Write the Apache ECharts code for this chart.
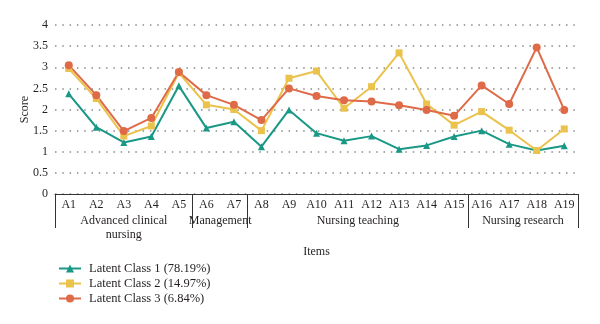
<!DOCTYPE html>
<html>
<head>
<meta charset="utf-8">
<script src="https://cdn.jsdelivr.net/npm/echarts@6/dist/echarts.min.js"></script>
<style>
	html, body { margin: 0; padding: 0; background: #fff; }
	#chart { width: 600px; height: 324px; }
</style>
</head>
<body>
<div id="chart"></div>
<script>
// 항목
var items = ['A1', 'A2', 'A3', 'A4', 'A5', 'A6', 'A7', 'A8', 'A9', 'A10',
	'A11', 'A12', 'A13', 'A14', 'A15', 'A16', 'A17', 'A18', 'A19'];

// 그룹 (경계 위치, 이름)
var groupBounds = [0, 5, 7, 15, 19];
var groupNames = ['Advanced clinical\nnursing', 'Management', 'Nursing teaching', 'Nursing research'];

// 시리즈 이름
var seriesNames = ['Latent Class 1 (78.19%)', 'Latent Class 2 (14.97%)', 'Latent Class 3 (6.84%)'];

// 점수
var class1 = [2.37, 1.58, 1.22, 1.36, 2.56, 1.56, 1.71, 1.12, 1.99, 1.44,
	1.26, 1.37, 1.06, 1.15, 1.36, 1.50, 1.18, 1.03, 1.14];
var class2 = [2.97, 2.26, 1.37, 1.61, 2.87, 2.11, 2.00, 1.50, 2.74, 2.91,
	2.03, 2.54, 3.34, 2.13, 1.63, 1.95, 1.51, 1.03, 1.54];
var class3 = [3.05, 2.34, 1.49, 1.80, 2.89, 2.34, 2.11, 1.75, 2.50, 2.32,
	2.22, 2.19, 2.10, 1.99, 1.85, 2.57, 2.13, 3.47, 1.99];

var chart = echarts.init(document.getElementById('chart'));

var fontName = 'Liberation Serif';
var textColor = '#231f20';

// 그룹 라벨 위치 (구간 가운데)
var groupCenters = [];
for (var i = 0; i < groupNames.length; i++) {
	groupCenters.push((groupBounds[i] + groupBounds[i + 1]) / 2);
}

function makeSeries(name, data, symbol, color) {
	return {
		name: name,
		type: 'line',
		data: data,
		symbol: symbol,
		symbolSize: symbol == 'circle' ? 8 : 7,
		showAllSymbol: true,
		lineStyle: { color: color, width: 2 },
		itemStyle: { color: color },
		z: 3
	};
}

var option = {
	animation: false,
	textStyle: { fontFamily: fontName, color: textColor },
	grid: { left: 55, right: 22, top: 25, bottom: 130 },
	legend: {
		orient: 'vertical',
		left: 53,
		top: 257,
		itemWidth: 22,
		itemHeight: 10,
		itemGap: 2,
		textStyle: { fontFamily: fontName, fontSize: 12.5, color: textColor, padding: [0, 0, 0, 3] },
		data: seriesNames
	},
	xAxis: [{
		type: 'category',
		data: items,
		boundaryGap: true,
		name: 'Items',
		nameLocation: 'middle',
		nameGap: 52,
		nameTextStyle: { fontFamily: fontName, fontSize: 12, color: textColor },
		axisLine: { lineStyle: { color: '#333', width: 1 } },
		axisTick: { show: false },
		axisLabel: { margin: 5, fontFamily: fontName, fontSize: 12, color: textColor, interval: 0 },
		splitLine: { show: false }
	}, {
		type: 'value',
		min: 0,
		max: 19,
		position: 'bottom',
		axisLine: { show: false },
		axisTick: {
			show: true,
			customValues: groupBounds,
			length: 34,
			lineStyle: { color: '#333', width: 1 }
		},
		axisLabel: {
			customValues: groupCenters,
			margin: 20,
			fontFamily: fontName,
			fontSize: 12,
			lineHeight: 14,
			color: textColor,
			formatter: function(value) {
				for (var i = 0; i < groupCenters.length; i++) {
					if (Math.abs(groupCenters[i] - value) < 0.01) return groupNames[i];
				}
				return '';
			}
		},
		splitLine: { show: false }
	}],
	yAxis: {
		type: 'value',
		min: 0,
		max: 4,
		interval: 0.5,
		name: 'Score',
		nameLocation: 'middle',
		nameGap: 24,
		nameMoveOverlap: false,
		nameTextStyle: { fontFamily: fontName, fontSize: 12, color: textColor },
		axisLine: { show: false },
		axisTick: { show: false },
		axisLabel: { margin: 7, fontFamily: fontName, fontSize: 12, color: textColor },
		splitLine: {
			show: true,
			lineStyle: { color: '#8a8a8a', width: 1.5, type: [1.5, 5.8] }
		}
	},
	series: [
		makeSeries(seriesNames[0], class1, 'triangle', '#1a9886'),
		makeSeries(seriesNames[1], class2, 'rect', '#eac24c'),
		makeSeries(seriesNames[2], class3, 'circle', '#df6a48')
	]
};

chart.setOption(option);
</script>
</body>
</html>
